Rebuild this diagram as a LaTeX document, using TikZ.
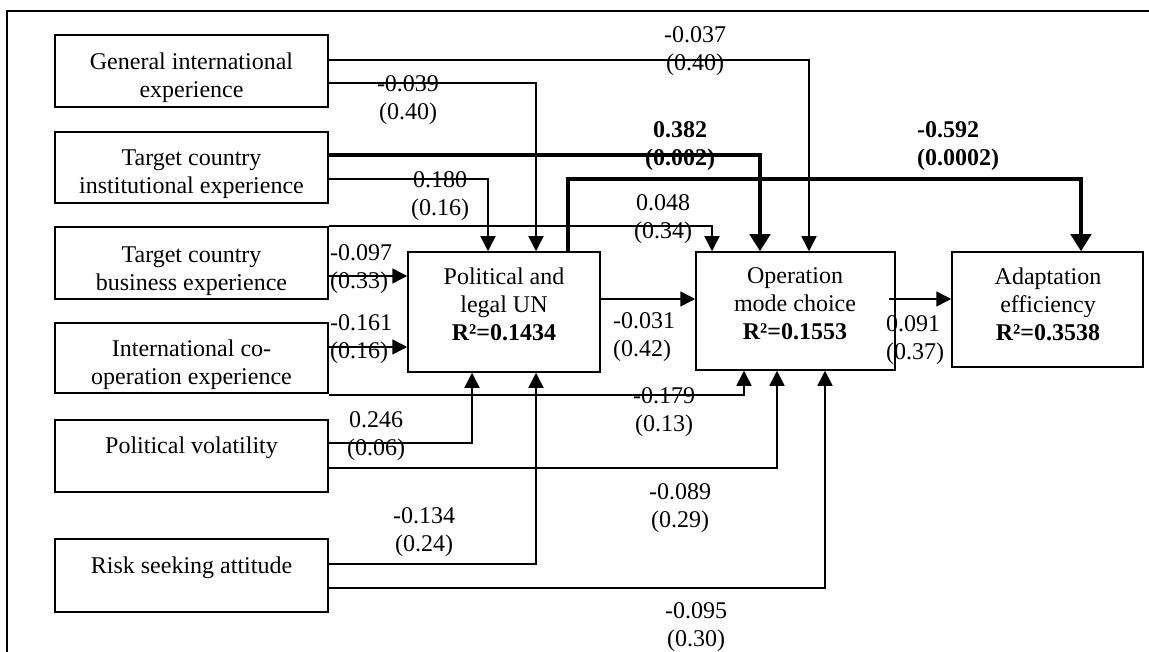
\documentclass[tikz,border=0pt]{standalone}
\usepackage{fontspec}
\setmainfont{Liberation Serif}
\usetikzlibrary{arrows.meta}
\begin{document}
\begin{tikzpicture}[x=1pt,y=-1pt,
  box/.style={draw, line width=1.5pt, inner sep=0pt},
  txt/.style={align=center, inner sep=0pt, font=\fontsize{24}{28}\selectfont},
  lbl/.style={align=center, inner sep=0pt, font=\fontsize{24}{28}\selectfont},
  lblb/.style={lbl, font=\fontsize{24}{28}\selectfont\bfseries},
  thinarr/.style={line width=1.5pt, -{Triangle[length=15pt,width=15pt]}},
  thickarr/.style={line width=4.5pt, -{Triangle[length=17pt,width=20pt]}},
]
\useasboundingbox (0,0) rectangle (1149,652);
% frame
\draw[line width=1.5pt] (7,652) -- (7,11) -- (1149,11);

% left boxes
\node[box, minimum width=273pt, minimum height=72pt] (gie) at (191.5,71) {};
\node[box, minimum width=273pt, minimum height=71pt] (tci) at (191.5,167.5) {};
\node[box, minimum width=273pt, minimum height=72pt] (tcb) at (191.5,263) {};
\node[box, minimum width=273pt, minimum height=70pt] (ico) at (191.5,358) {};
\node[box, minimum width=273pt, minimum height=72pt] (pv) at (191.5,456) {};
\node[box, minimum width=273pt, minimum height=73pt] (rsa) at (191.5,575.5) {};
% right boxes
\node[box, minimum width=192pt, minimum height=120pt] (plu) at (504,312) {};
\node[box, minimum width=199pt, minimum height=118pt] (omc) at (795.5,311) {};
\node[box, minimum width=191pt, minimum height=115pt] (ae) at (1047.5,309.5) {};

% box texts
\node[txt] (giet) at (191.5,78) {General international\\experience};
\node[txt] (tcit) at (191.5,174.5) {Target country\\institutional experience};
\node[txt] (tcbt) at (191.5,271) {Target country\\business experience};
\node[txt] (icot) at (191.5,365) {International co-\\operation experience};
\node[txt] (pvt) at (191.5,448) {Political volatility};
\node[txt] (rsat) at (191.5,567.5) {Risk seeking attitude};
\node[txt] (plut) at (504,304) {Political and\\legal UN\\\textbf{R²=0.1434}};
\node[txt] (omct) at (795,304) {Operation\\mode choice\\\textbf{R²=0.1553}};
\node[txt] (aet) at (1048,304) {Adaptation\\efficiency\\\textbf{R²=0.3538}};

% connectors
\draw[thinarr] (gie.east |- 0,60) -| (omc.north -| 809,0);
\draw[thinarr] (gie.east |- 0,83) -| (plu.north -| 536,0);
\draw[thickarr] (tci.east |- 0,155) -| (omc.north -| 760,0);
\draw[thinarr] (tci.east |- 0,179) -| (plu.north -| 488,0);
\draw[thickarr] (plu.north -| 568,0) -- ++(0,-72) -| (ae.north -| 1081,0);
\draw[thinarr] (tcb.north east) -| (omc.north -| 712,0);
\draw[thinarr] (tcb.east |- 0,276) -- (plu.west |- 0,276);
\draw[thinarr] (ico.east |- 0,347) -- (plu.west |- 0,347);
\draw[thinarr] (ico.east |- 0,395) -| (omc.south -| 744,0);
\draw[thinarr] (pv.east |- 0,443) -| (plu.south -| 472,0);
\draw[thinarr] (pv.east |- 0,468) -| (omc.south -| 777,0);
\draw[thinarr] (rsa.east |- 0,564) -| (plu.south -| 536,0);
\draw[thinarr] (rsa.east |- 0,588) -| (omc.south -| 825,0);
\draw[thinarr] (plu.east |- 0,299) -- (omc.west |- 0,299);
\draw[thinarr] ([xshift=-7pt]omc.east |- 0,299) -- (ae.west |- 0,299);

% labels
\node[lbl] (l1) at (695,51) {-0.037\\(0.40)};
\node[lbl] (l2) at (408,100) {-0.039\\(0.40)};
\node[lblb] (l3) at (680,146) {0.382\\(0.002)};
\node[lblb, anchor=west, align=left] (l4) at (917,146) {-0.592\\(0.0002)};
\node[lbl] (l5) at (440,196) {0.180\\(0.16)};
\node[lbl] (l6) at (663,219.5) {0.048\\(0.34)};
\node[lbl, anchor=west, align=left] (l7) at (330,269) {-0.097\\(0.33)};
\node[lbl, anchor=west, align=left] (l8) at (330,339.5) {-0.161\\(0.16)};
\node[lbl] (l9) at (376,436) {0.246\\(0.06)};
\node[lbl, anchor=west, align=left] (l10) at (613,337) {-0.031\\(0.42)};
\node[lbl, anchor=west, align=left] (l11) at (886,340) {0.091\\(0.37)};
\node[lbl] (l12) at (664,412) {-0.179\\(0.13)};
\node[lbl] (l13) at (680,508.5) {-0.089\\(0.29)};
\node[lbl] (l14) at (424,532.5) {-0.134\\(0.24)};
\node[lbl] (l15) at (696,627.5) {-0.095\\(0.30)};
\end{tikzpicture}
\end{document}
